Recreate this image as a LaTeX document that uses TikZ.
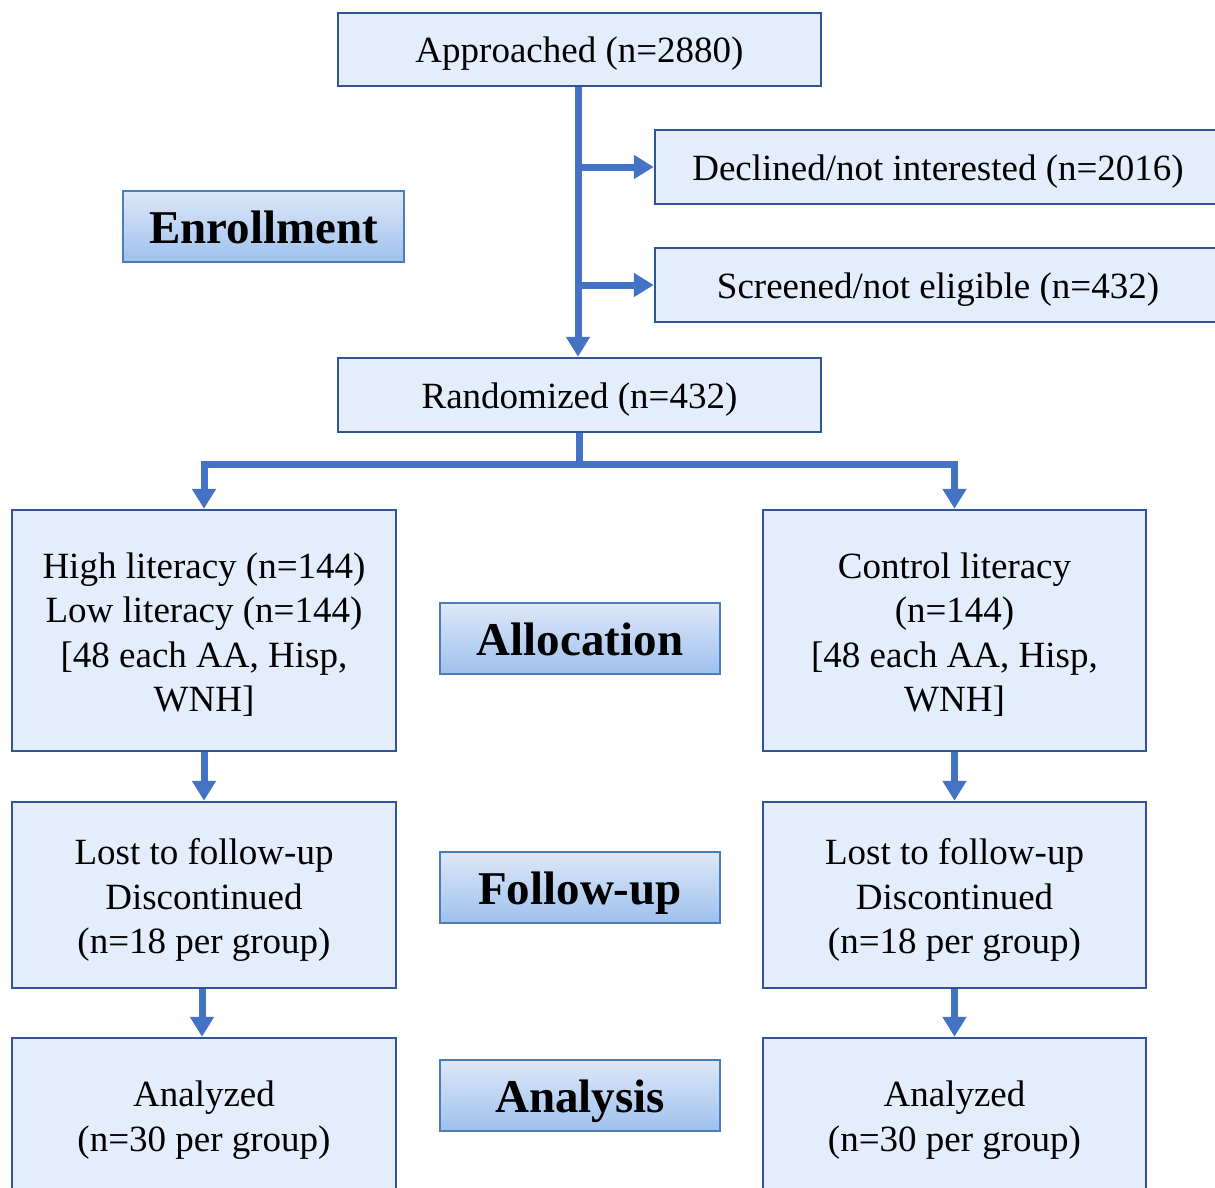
\documentclass[tikz,border=0pt]{standalone}
\usepackage{fontspec}
\setmainfont{Liberation Serif}
\usetikzlibrary{arrows.meta}
\definecolor{boxfill}{HTML}{E4EDFC}
\definecolor{boxline}{HTML}{2F5597}
\definecolor{arrcol}{HTML}{4472C4}
\definecolor{labtop}{HTML}{DEE8F8}
\definecolor{labbot}{HTML}{9EC0EE}
\definecolor{labline}{HTML}{4A7EBB}
\tikzset{
  flowbox/.style={draw=boxline, line width=2.5pt, fill=boxfill, inner sep=0pt},
  flowtext/.style={align=center, inner sep=0pt, font=\fontsize{37}{44.5}\selectfont},
  phase/.style={draw=labline, line width=2pt, top color=labtop, bottom color=labbot,
    minimum width=280pt, minimum height=71pt, inner sep=0pt,
    text height=36pt, text depth=2pt,
    font=\fontsize{47}{52}\selectfont\bfseries},
  conn/.style={draw=arrcol, line width=7pt},
  arr/.style={conn, -{Triangle[width=23pt,length=20pt]}},
}
\begin{document}
\begin{tikzpicture}[x=1pt,y=-1pt]
\useasboundingbox (0,0) rectangle (1215,1188);
\clip (0,0) rectangle (1215,1188);
% boxes
\node[flowbox, minimum width=483pt, minimum height=73pt] (appr) at (579.5,49.5) {};
\node[flowbox, minimum width=566pt, minimum height=74pt] (decl) at (938,167) {};
\node[flowbox, minimum width=566pt, minimum height=74pt] (scr) at (938,285) {};
\node[flowbox, minimum width=483pt, minimum height=74pt] (rand) at (579.5,395) {};
\node[flowbox, minimum width=384pt, minimum height=241pt] (hl) at (204,630.5) {};
\node[flowbox, minimum width=383pt, minimum height=241pt] (cl) at (954.5,630.5) {};
\node[flowbox, minimum width=384pt, minimum height=186pt] (fu1) at (204,895) {};
\node[flowbox, minimum width=383pt, minimum height=186pt] (fu2) at (954.5,895) {};
\node[flowbox, minimum width=384pt, minimum height=160pt] (an1) at (204,1118) {};
\node[flowbox, minimum width=383pt, minimum height=160pt] (an2) at (954.5,1118) {};
% box texts
\node[flowtext] (apprT) at ([yshift=-4pt]appr.center) {Approached (n=2880)};
\node[flowtext] (declT) at ([yshift=-5pt]decl.center) {Declined/not interested (n=2016)};
\node[flowtext] (scrT) at ([yshift=-5pt]scr.center) {Screened/not eligible (n=432)};
\node[flowtext] (randT) at ([yshift=-5pt]rand.center) {Randomized (n=432)};
\node[flowtext] (hlT) at ([yshift=-4pt]hl.center) {High literacy (n=144)\\Low literacy (n=144)\\{[}48 each AA, Hisp,\\WNH{]}};
\node[flowtext] (clT) at ([yshift=-4pt]cl.center) {Control literacy\\(n=144)\\{[}48 each AA, Hisp,\\WNH{]}};
\node[flowtext] (fu1T) at ([yshift=-5pt]fu1.center) {Lost to follow-up\\Discontinued\\(n=18 per group)};
\node[flowtext] (fu2T) at ([yshift=-5pt]fu2.center) {Lost to follow-up\\Discontinued\\(n=18 per group)};
\node[flowtext] (an1T) at ([yshift=-2pt]an1.center) {Analyzed\\(n=30 per group)};
\node[flowtext] (an2T) at ([yshift=-2pt]an2.center) {Analyzed\\(n=30 per group)};
% phase labels
\node[phase, minimum width=281pt] (enr) at (263.5,226.5) {Enrollment};
\node[phase] (allo) at (580,638.5) {Allocation};
\node[phase] (fol) at (580,887.5) {Follow-up};
\node[phase] (ana) at (580,1095.5) {Analysis};
% connectors
\draw[arr] (appr.south -| 578,0) -- (rand.north -| 578,0);
\draw[arr] (578,167) coordinate (b1) -- (decl.west);
\draw[arr] (578,285) coordinate (b2) -- (scr.west);
\coordinate (split) at (579.5,464);
\draw[conn] (rand.south) -- (split);
\draw[arr] ([xshift=3.5pt]split) -| (hl.north);
\draw[arr] ([xshift=-3.5pt]split) -| (cl.north);
\draw[arr] (hl.south) -- (fu1.north);
\draw[arr] (cl.south) -- (fu2.north);
\draw[arr] (fu1.south -| 202,0) -- (an1.north -| 202,0);
\draw[arr] (fu2.south) -- (an2.north);
\end{tikzpicture}
\end{document}
